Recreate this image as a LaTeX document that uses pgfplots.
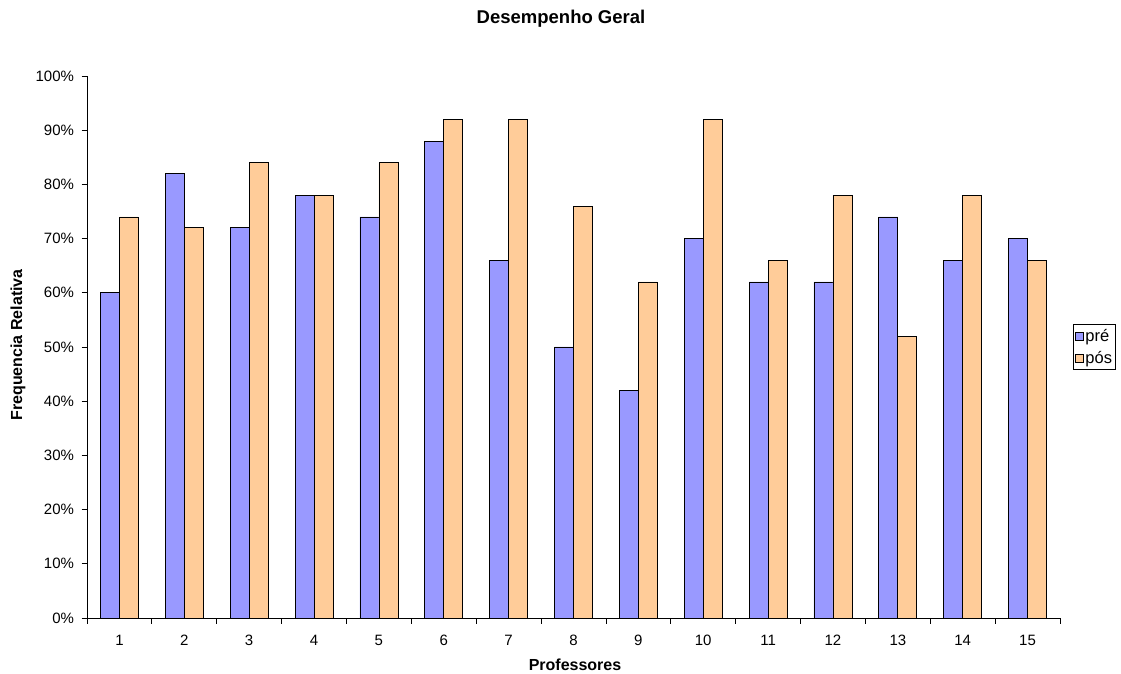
\documentclass[border=0pt]{standalone}
\usepackage{pgfplots}
\usepackage{pgfplotstable}
\pgfplotsset{compat=1.18}
\usepackage{fontspec}
\setmainfont{Liberation Sans}

\definecolor{corpre}{HTML}{9999FF}
\definecolor{corpos}{HTML}{FFCC99}

% Desempenho por professor: pré e pós (em %)
\pgfplotstableread{
prof pre pos
1  60 74
2  82 72
3  72 84
4  78 78
5  74 84
6  88 92
7  66 92
8  50 76
9  42 62
10 70 92
11 62 66
12 62 78
13 74 52
14 66 78
15 70 66
}\dados

\begin{document}
\begin{tikzpicture}[x=1pt,y=1pt]
\path[use as bounding box] (0,0) rectangle (1121,674);
\begin{axis}[
  at={(87pt,56pt)}, anchor=south west,
  scale only axis, width=973pt, height=542pt,
  ybar=0pt, bar width=19pt,
  xmin=0.5, xmax=15.5, ymin=0, ymax=100,
  axis x line*=bottom, axis y line*=left,
  axis line style={-, line width=0.8pt},
  tick align=outside,
  tick style={black, line width=0.8pt},
  major tick length=5.5pt,
  xtick={0.5,1.5,...,15.5},
  x tick label as interval=true,
  xticklabels={1,2,3,4,5,6,7,8,9,10,11,12,13,14,15},
  ytick={0,10,...,100},
  yticklabel={\pgfmathprintnumber{\tick}\%},
  /pgf/number format/assume math mode=true,
  tick label style={font=\fontsize{15}{18}\selectfont},
  xticklabel style={yshift=-8pt},
  yticklabel style={xshift=-4pt},
  legend style={
    at={(axis description cs:1,0.5)}, anchor=west, xshift=13pt,
    draw=black, line width=0.6pt, inner xsep=2pt, inner ysep=3pt,
    font=\fontsize{16.5}{19}\selectfont,
    row sep=4pt,
    legend cell align=left,
    nodes={inner xsep=1.5pt},
  },
  legend image code/.code={
    \draw[#1, line width=0.6pt] (0pt,-4pt) rectangle (8pt,4pt);
  },
]
\addplot[fill=corpre, draw=black, line width=0.8pt] table[x=prof, y=pre] {\dados};
\addplot[fill=corpos, draw=black, line width=0.8pt] table[x=prof, y=pos] {\dados};
\legend{pré, pós}
\end{axis}
\node[font=\fontsize{18.5}{22}\selectfont\bfseries] at (561,655) {Desempenho Geral};
\node[font=\fontsize{16}{19}\selectfont\bfseries, anchor=base, inner sep=0pt] at (575,3) {Professores};
\node[font=\fontsize{16}{19}\selectfont\bfseries, rotate=90] at (18,329) {Frequencia Relativa};
\end{tikzpicture}
\end{document}
